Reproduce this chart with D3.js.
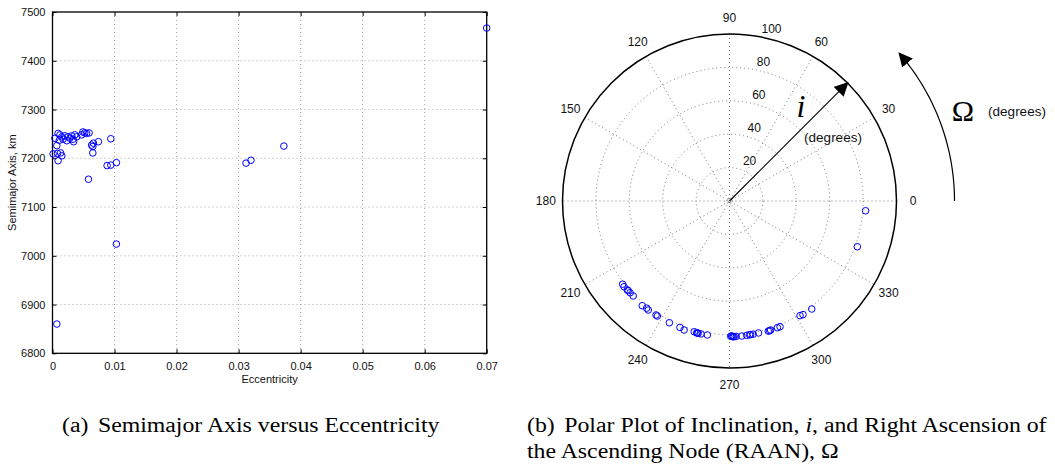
<!DOCTYPE html>
<html>
<head>
<meta charset="utf-8">
<script src="https://cdn.jsdelivr.net/npm/d3@7"></script>
<style>
  html, body { margin: 0; padding: 0; background: #fff; }
  svg { display: block; }
</style>
</head>
<body>
<svg id="chart" width="1055" height="470"></svg>
<script>
// ---------- DATA ----------
const eccentricity = [0.0004,0.0009,0.0012,0.0015,0.0011,0.0017,0.0020,0.0023,0.0025,0.0028,
  0.0031,0.0033,0.0034,0.0036,0.0039,0.0049,0.0047,0.0052,0.0055,0.0059,
  0.0007,0.0001,0.0008,0.0013,0.0015,0.0009,0.0063,0.0065,0.0066,0.0065,
  0.0074,0.0094,0.0058,0.0088,0.0094,0.0103,0.0103,0.0007,0.0312,0.0320,
  0.0373,0.0700];
const semimajorAxis = [7241,7251,7248,7244,7237,7239,7246,7236,7244,7241,
  7246,7239,7234,7248,7244,7254,7248,7252,7251,7252,
  7226,7209,7210,7211,7205,7195,7227,7224,7231,7211,
  7234,7240,7157,7185,7186,7191,7024,6860,7190,7196,
  7225,7467];
const xTicks = [0,0.01,0.02,0.03,0.04,0.05,0.06,0.07];
const xTickLabels = ["0","0.01","0.02","0.03","0.04","0.05","0.06","0.07"];
const yTicks = [6800,6900,7000,7100,7200,7300,7400,7500];
const yTickLabels = ["6800","6900","7000","7100","7200","7300","7400","7500"];

const raan = [217.9,219.1,221.5,222.7,224.6,230.2,232.3,233.3,237.2,237.9,
  243.7,248.6,250.6,254.9,256.0,256.7,257.9,260.6,270.9,271.6,
  272.8,275.2,277.3,279.0,280.1,282.4,286.6,287.7,290.7,291.9,
  301.6,302.9,307.3,340.3,355.9,221.0,256.3,270.5,271.2,272.0,278.5,287.2];
const inclination = [81.1,81.4,81.0,81.0,81.0,81.6,81.1,81.4,81.2,81.3,
  81.3,81.3,81.9,81.1,81.3,81.4,81.4,81.3,80.8,81.3,
  81.2,81.2,81.1,81.0,81.0,80.9,81.3,81.1,81.1,81.1,
  80.6,81.0,81.3,81.3,81.7,81.1,81.4,81.0,81.2,81.3,81.0,81.3];
const angleTicks = [0,30,60,90,120,150,180,210,240,270,300,330];
const angleTickLabels = ["0","30","60","90","120","150","180","210","240","270","300","330"];
const radialTicks = [20,40,60,80,100];
const radialTickLabels = ["20","40","60","80","100"];

// ---------- SETUP ----------
const svg = d3.select("#chart");
const sans = "'Liberation Sans', Arial, Helvetica, sans-serif";
const serif = "'Liberation Serif', 'Times New Roman', serif";
const blue = "#0000ff";

svg.append("defs").append("marker")
  .attr("id","arrowhead").attr("viewBox","0 0 10 10")
  .attr("refX",9).attr("refY",5)
  .attr("markerWidth",14).attr("markerHeight",14)
  .attr("markerUnits","userSpaceOnUse")
  .attr("orient","auto")
  .append("path").attr("d","M0,0 L10,5 L0,10 z").attr("fill","#000");

// ---------- LEFT: cartesian scatter ----------
const L = {left: 52.5, right: 486.7, top: 12, bottom: 353.3};
const x = d3.scaleLinear().domain([0,0.07]).range([L.left, L.right]);
const y = d3.scaleLinear().domain([6800,7500]).range([L.bottom, L.top]);

const gL = svg.append("g");
gL.selectAll("line.gx").data(xTicks.slice(1,-1)).join("line")
  .attr("x1",d=>x(d)).attr("x2",d=>x(d)).attr("y1",L.top).attr("y2",L.bottom)
  .attr("stroke","#a8a8a8").attr("stroke-width",1).attr("stroke-dasharray","1,3");
gL.selectAll("line.gy").data(yTicks.slice(1,-1)).join("line")
  .attr("y1",d=>y(d)).attr("y2",d=>y(d)).attr("x1",L.left).attr("x2",L.right)
  .attr("stroke","#a8a8a8").attr("stroke-width",1).attr("stroke-dasharray","1,3");

const xAxis = d3.axisBottom(x).tickValues(xTicks).tickFormat((d,i)=>xTickLabels[i]).tickSizeInner(-4).tickSizeOuter(0).tickPadding(9);
const yAxis = d3.axisLeft(y).tickValues(yTicks).tickFormat((d,i)=>yTickLabels[i]).tickSizeInner(-4).tickSizeOuter(0).tickPadding(7);
const xTop = d3.axisTop(x).tickValues(xTicks).tickFormat("").tickSizeInner(-4).tickSizeOuter(0);
const yRight = d3.axisRight(y).tickValues(yTicks).tickFormat("").tickSizeInner(-4).tickSizeOuter(0);

function styleAxis(g){
  g.select(".domain").remove();
  g.selectAll(".tick line").attr("stroke","#000").attr("stroke-width",1);
  g.selectAll("text").attr("font-family",sans).attr("font-size","11px").attr("fill","#111");
}
gL.append("g").attr("transform",`translate(0,${L.bottom})`).call(xAxis).call(styleAxis);
gL.append("g").attr("transform",`translate(${L.left},0)`).call(yAxis).call(styleAxis);
gL.append("g").attr("transform",`translate(0,${L.top})`).call(xTop).call(styleAxis);
gL.append("g").attr("transform",`translate(${L.right},0)`).call(yRight).call(styleAxis);

gL.append("rect").attr("x",L.left).attr("y",L.top)
  .attr("width",L.right-L.left).attr("height",L.bottom-L.top)
  .attr("fill","none").attr("stroke","#000").attr("stroke-width",1.3);

gL.selectAll("circle.pt").data(eccentricity).join("circle")
  .attr("cx",d=>x(d)).attr("cy",(d,i)=>y(semimajorAxis[i])).attr("r",3.3)
  .attr("fill","none").attr("stroke",blue).attr("stroke-width",1);

gL.append("text").attr("x",(L.left+L.right)/2).attr("y",383)
  .attr("text-anchor","middle").attr("font-family",sans).attr("font-size","11px").attr("fill","#111")
  .text("Eccentricity");
gL.append("text").attr("transform",`translate(16,${(L.top+L.bottom)/2}) rotate(-90)`)
  .attr("text-anchor","middle").attr("font-family",sans).attr("font-size","11px").attr("fill","#111")
  .text("Semimajor Axis, km");

// ---------- RIGHT: polar ----------
const cx = 729.5, cy = 201, R = 167;
const rS = d3.scaleLinear().domain([0,100]).range([0,R]);
const rad = d => d*Math.PI/180;
const gP = svg.append("g");

gP.selectAll("line.spoke").data(angleTicks.slice(0,6)).join("line")
  .attr("x1",d=>cx + R*Math.cos(rad(d))).attr("y1",d=>cy - R*Math.sin(rad(d)))
  .attr("x2",d=>cx - R*Math.cos(rad(d))).attr("y2",d=>cy + R*Math.sin(rad(d)))
  .attr("stroke","#777").attr("stroke-width",1).attr("stroke-dasharray","1,3");
gP.selectAll("circle.ring").data(radialTicks.slice(0,-1)).join("circle")
  .attr("cx",cx).attr("cy",cy).attr("r",d=>rS(d))
  .attr("fill","none").attr("stroke","#777").attr("stroke-width",1).attr("stroke-dasharray","1,3");
gP.append("circle").attr("cx",cx).attr("cy",cy).attr("r",3)
  .attr("fill","none").attr("stroke","#777").attr("stroke-width",1).attr("stroke-dasharray","1,2");
gP.append("circle").attr("cx",cx).attr("cy",cy).attr("r",rS(100))
  .attr("fill","none").attr("stroke","#000").attr("stroke-width",1.5);

gP.selectAll("text.ang").data(angleTicks).join("text")
  .attr("x",d=>cx + 1.1*R*Math.cos(rad(d)))
  .attr("y",d=>cy - 1.1*R*Math.sin(rad(d)))
  .attr("dy","0.35em").attr("text-anchor","middle")
  .attr("font-family",sans).attr("font-size","12px").attr("fill","#111")
  .text((d,i)=>angleTickLabels[i]);
gP.selectAll("text.rl").data(radialTicks).join("text")
  .attr("x",d=>cx + (rS(d)+R/100)*Math.cos(rad(82)) + 8.5)
  .attr("y",d=>cy - (rS(d)+R/100)*Math.sin(rad(82)) - 1)
  .attr("text-anchor","start")
  .attr("font-family",sans).attr("font-size","12px").attr("fill","#111")
  .text((d,i)=>radialTickLabels[i]);

gP.selectAll("circle.pp").data(raan).join("circle")
  .attr("cx",(d,i)=>cx + rS(inclination[i])*Math.cos(rad(d)))
  .attr("cy",(d,i)=>cy - rS(inclination[i])*Math.sin(rad(d)))
  .attr("r",3.3).attr("fill","none").attr("stroke",blue).attr("stroke-width",1);

gP.append("line").attr("x1",cx).attr("y1",cy)
  .attr("x2",cx + rS(100)*Math.cos(rad(45))).attr("y2",cy - rS(100)*Math.sin(rad(45)))
  .attr("stroke","#000").attr("stroke-width",1.2).attr("marker-end","url(#arrowhead)");
gP.append("text").attr("x",801).attr("y",117).attr("text-anchor","middle")
  .attr("font-family",serif).attr("font-style","italic").attr("font-size","32px").attr("fill","#000")
  .text("i");
gP.append("text").attr("x",833).attr("y",142).attr("text-anchor","middle")
  .attr("font-family",sans).attr("font-size","13.5px").attr("fill","#111")
  .text("(degrees)");

const arcR = 225;
const arcPts = d3.range(0, 41.01, 1).map(a => [cx + arcR*Math.cos(rad(a)), cy - arcR*Math.sin(rad(a))]);
gP.append("path").attr("d", d3.line()(arcPts))
  .attr("fill","none").attr("stroke","#000").attr("stroke-width",1.2).attr("marker-end","url(#arrowhead)");
gP.append("text").attr("x",963).attr("y",121).attr("text-anchor","middle")
  .attr("font-family",serif).attr("font-size","30px").attr("fill","#000")
  .text("Ω");
gP.append("text").attr("x",1017).attr("y",116).attr("text-anchor","middle")
  .attr("font-family",sans).attr("font-size","13.5px").attr("fill","#111")
  .text("(degrees)");

// ---------- captions ----------
const capScale = 1.19;
const capA = svg.append("text").attr("transform",`translate(62,432) scale(${capScale},1)`)
  .attr("font-family",serif).attr("font-size","20px").attr("fill","#000");
capA.append("tspan").text("(a)");
capA.append("tspan").attr("dx","8").text("Semimajor Axis versus Eccentricity");

const capB = svg.append("text").attr("transform",`translate(527,432) scale(${capScale},1)`)
  .attr("font-family",serif).attr("font-size","20px").attr("fill","#000");
capB.append("tspan").text("(b)");
capB.append("tspan").attr("dx","8").text("Polar Plot of Inclination, ");
capB.append("tspan").attr("font-style","italic").text("i");
capB.append("tspan").text(", and Right Ascension of");
svg.append("text").attr("transform",`translate(527,458) scale(${capScale},1)`)
  .attr("font-family",serif).attr("font-size","20px").attr("fill","#000")
  .text("the Ascending Node (RAAN), Ω");
</script>
</body>
</html>
